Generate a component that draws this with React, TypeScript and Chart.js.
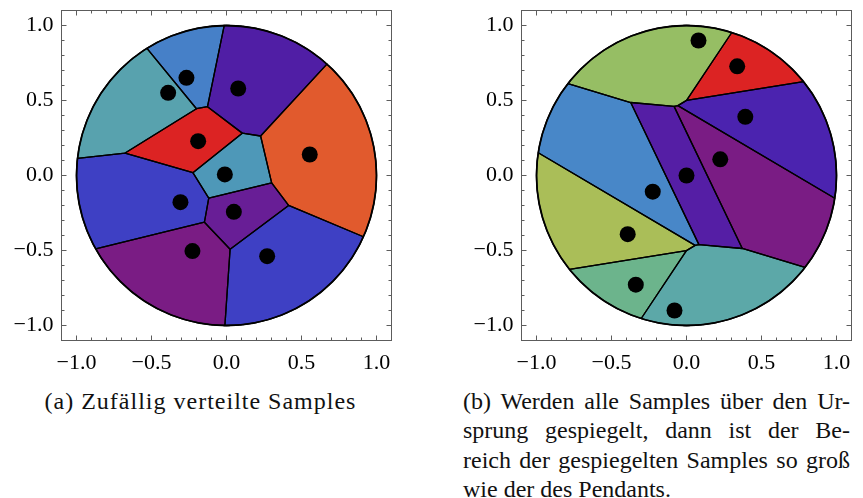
import React, { useEffect, useRef } from 'react';
import { Chart, registerables } from 'chart.js';

Chart.register(...registerables);

type Pt = [number, number];

// (a) randomly placed samples inside the unit disc
const randomSamplesX = [-0.267, -0.389, 0.078, -0.189, 0.555, -0.011, -0.307, 0.049, -0.227, 0.271];
const randomSamplesY = [0.651, 0.551, 0.58, 0.229, 0.14, 0.007, -0.178, -0.242, -0.504, -0.538];
const randomCellColors = ['#4680c8', '#58a2ae', '#501ea5', '#dc2323', '#e15a2d', '#4e98b8', '#3e40c4', '#681e96', '#7a1c84', '#3e40c4'];

// (b) five samples and their reflections through the origin
const mirroredSamplesX = [0.08, 0.338, 0.392, 0.225, 0.0, -0.08, -0.338, -0.392, -0.225];
const mirroredSamplesY = [0.9, 0.728, 0.391, 0.108, 0.0, -0.9, -0.728, -0.391, -0.108];
const mirroredCellColors = ['#96be64', '#dc2323', '#4b23af', '#7a1c84', '#551ea5', '#5ca8a8', '#6cb48c', '#aabe58', '#4887c8'];

const axisMin = -1.1;
const axisMax = 1.1;
const majorTicks = [-1.0, -0.5, 0.0, 0.5, 1.0];
const minorTicks = [-1.0, -0.9, -0.8, -0.7, -0.6, -0.5, -0.4, -0.3, -0.2, -0.1, 0.0, 0.1, 0.2, 0.3, 0.4, 0.5, 0.6, 0.7, 0.8, 0.9, 1.0];
const discRadius = 1;

const captionA = '(a) Zufällig verteilte Samples';
const captionBLines = [
  '(b) Werden alle Samples über den Ur-',
  'sprung gespiegelt, dann ist der Be-',
  'reich der gespiegelten Samples so groß',
  'wie der des Pendants.',
];

const serif = "'Liberation Serif', 'DejaVu Serif', serif";

// Sutherland–Hodgman step: keep the part of poly on the near side of the bisector
function clipHalfPlane(poly: Pt[], m: Pt, d: Pt): Pt[] {
  const out: Pt[] = [];
  const f = (p: Pt) => (p[0] - m[0]) * d[0] + (p[1] - m[1]) * d[1];
  for (let k = 0; k < poly.length; k++) {
    const a = poly[k];
    const b = poly[(k + 1) % poly.length];
    const fa = f(a);
    const fb = f(b);
    if (fa <= 0) out.push(a);
    if ((fa <= 0) !== (fb <= 0)) {
      const t = fa / (fa - fb);
      out.push([a[0] + t * (b[0] - a[0]), a[1] + t * (b[1] - a[1])]);
    }
  }
  return out;
}

// Voronoi cells of the samples, restricted to the disc
function voronoiInDisc(xs: number[], ys: number[], r: number): Pt[][] {
  const disc: Pt[] = [];
  const n = 720;
  for (let k = 0; k < n; k++) {
    const a = (2 * Math.PI * k) / n;
    disc.push([r * Math.cos(a), r * Math.sin(a)]);
  }
  return xs.map((xi, i) => {
    let poly = disc;
    xs.forEach((xj, j) => {
      if (j === i) return;
      const m: Pt = [(xi + xj) / 2, (ys[i] + ys[j]) / 2];
      const d: Pt = [xj - xi, ys[j] - ys[i]];
      poly = clipHalfPlane(poly, m, d);
    });
    return poly;
  });
}

const voronoiPlugin = {
  id: 'voronoiCells',
  beforeDatasetsDraw(chart: any, _args: any, opts: any) {
    const { ctx } = chart;
    const xs = chart.scales.x;
    const ys = chart.scales.y;
    const cells = voronoiInDisc(opts.xs, opts.ys, discRadius);
    const trace = (poly: Pt[]) => {
      ctx.beginPath();
      poly.forEach(([px, py], k) => {
        const X = xs.getPixelForValue(px);
        const Y = ys.getPixelForValue(py);
        if (k === 0) ctx.moveTo(X, Y);
        else ctx.lineTo(X, Y);
      });
      ctx.closePath();
    };
    ctx.save();
    cells.forEach((poly, i) => {
      trace(poly);
      ctx.fillStyle = opts.colors[i];
      ctx.fill();
    });
    ctx.strokeStyle = '#000';
    ctx.lineJoin = 'round';
    ctx.lineWidth = 1.3;
    cells.forEach((poly) => {
      trace(poly);
      ctx.stroke();
    });
    const cx = xs.getPixelForValue(0);
    const cy = ys.getPixelForValue(0);
    const rx = xs.getPixelForValue(discRadius) - cx;
    const ry = cy - ys.getPixelForValue(discRadius);
    ctx.beginPath();
    ctx.ellipse(cx, cy, rx, ry, 0, 0, 2 * Math.PI);
    ctx.lineWidth = 1.8;
    ctx.stroke();
    ctx.restore();
  },
};

const frameTicksPlugin = {
  id: 'frameTicks',
  afterDatasetsDraw(chart: any) {
    const { ctx, chartArea } = chart;
    const { left, right, top, bottom } = chartArea;
    const xs = chart.scales.x;
    const ys = chart.scales.y;
    ctx.save();
    ctx.strokeStyle = '#5c5c5c';
    ctx.lineWidth = 1;
    ctx.strokeRect(left, top, right - left, bottom - top);
    minorTicks.forEach((v) => {
      const len = majorTicks.some((m) => Math.abs(m - v) < 1e-9) ? 5 : 3;
      const X = xs.getPixelForValue(v);
      const Y = ys.getPixelForValue(v);
      ctx.beginPath();
      ctx.moveTo(X, bottom);
      ctx.lineTo(X, bottom - len);
      ctx.moveTo(X, top);
      ctx.lineTo(X, top + len);
      ctx.moveTo(left, Y);
      ctx.lineTo(left + len, Y);
      ctx.moveTo(right, Y);
      ctx.lineTo(right - len, Y);
      ctx.stroke();
    });
    ctx.restore();
  },
};

const fmtTick = (v: number | string) => {
  const n = Number(v);
  if (Math.abs(n) < 1e-9) return '0.0';
  return (n < 0 ? '\u2212' : '') + Math.abs(n).toFixed(1);
};

function VoronoiPanel(props: { xs: number[]; ys: number[]; colors: string[]; left: number }) {
  const ref = useRef<HTMLCanvasElement>(null);
  useEffect(() => {
    if (!ref.current) return;
    const tickFont = { family: serif, size: 22 };
    const chart = new Chart(ref.current, {
      type: 'scatter',
      data: {
        datasets: [
          {
            data: props.xs.map((x, i) => ({ x, y: props.ys[i] })),
            pointRadius: 8,
            pointHoverRadius: 8,
            backgroundColor: '#000',
            borderWidth: 0,
          },
        ],
      },
      options: {
        animation: false,
        responsive: false,
        events: [],
        layout: { padding: { left: 0, top: 10.5, right: 11.5, bottom: 0 } },
        plugins: {
          legend: { display: false },
          tooltip: { enabled: false },
          voronoiCells: { xs: props.xs, ys: props.ys, colors: props.colors },
        } as any,
        scales: {
          x: {
            type: 'linear',
            min: axisMin,
            max: axisMax,
            grid: { display: false, drawTicks: false },
            border: { display: false },
            afterBuildTicks: (s: any) => {
              s.ticks = majorTicks.map((value) => ({ value }));
            },
            afterFit: (s: any) => {
              s.height = 39.5;
              s.paddingLeft = 0;
              s.paddingRight = 0;
            },
            ticks: { callback: fmtTick, font: tickFont, color: '#000', padding: 10, maxRotation: 0, autoSkip: false },
          },
          y: {
            type: 'linear',
            min: axisMin,
            max: axisMax,
            grid: { display: false, drawTicks: false },
            border: { display: false },
            afterBuildTicks: (s: any) => {
              s.ticks = majorTicks.map((value) => ({ value }));
            },
            afterFit: (s: any) => {
              s.width = 61.5;
              s.paddingTop = 0;
              s.paddingBottom = 0;
            },
            ticks: { callback: fmtTick, font: tickFont, color: '#000', padding: 8, autoSkip: false },
          },
        },
      } as any,
      plugins: [voronoiPlugin, frameTicksPlugin],
    });
    return () => chart.destroy();
  }, []);
  return (
    <canvas
      ref={ref}
      width={403}
      height={380}
      style={{ position: 'absolute', left: props.left, top: 0, width: 403, height: 380 }}
    />
  );
}

export default function App() {
  const captionStyle: React.CSSProperties = {
    position: 'absolute',
    fontFamily: serif,
    fontSize: 24,
    lineHeight: '29.5px',
    color: '#111',
  };
  return (
    <div style={{ position: 'absolute', left: 0, top: 0, width: 863, height: 498, background: '#fff', overflow: 'hidden' }}>
      <VoronoiPanel xs={randomSamplesX} ys={randomSamplesY} colors={randomCellColors} left={0} />
      <VoronoiPanel xs={mirroredSamplesX} ys={mirroredSamplesY} colors={mirroredCellColors} left={460} />
      <div style={{ ...captionStyle, left: 7, top: 386.5, width: 387, textAlign: 'center', letterSpacing: '1px', whiteSpace: 'nowrap' }}>
        {captionA}
      </div>
      {captionBLines.map((line, i) => (
        <div
          key={i}
          style={{
            ...captionStyle,
            left: 463,
            top: 386.5 + i * 29.5,
            width: 387,
            textAlign: i < captionBLines.length - 1 ? 'justify' : 'left',
            textAlignLast: i < captionBLines.length - 1 ? 'justify' : 'left',
          }}
        >
          {line}
        </div>
      ))}
    </div>
  );
}
